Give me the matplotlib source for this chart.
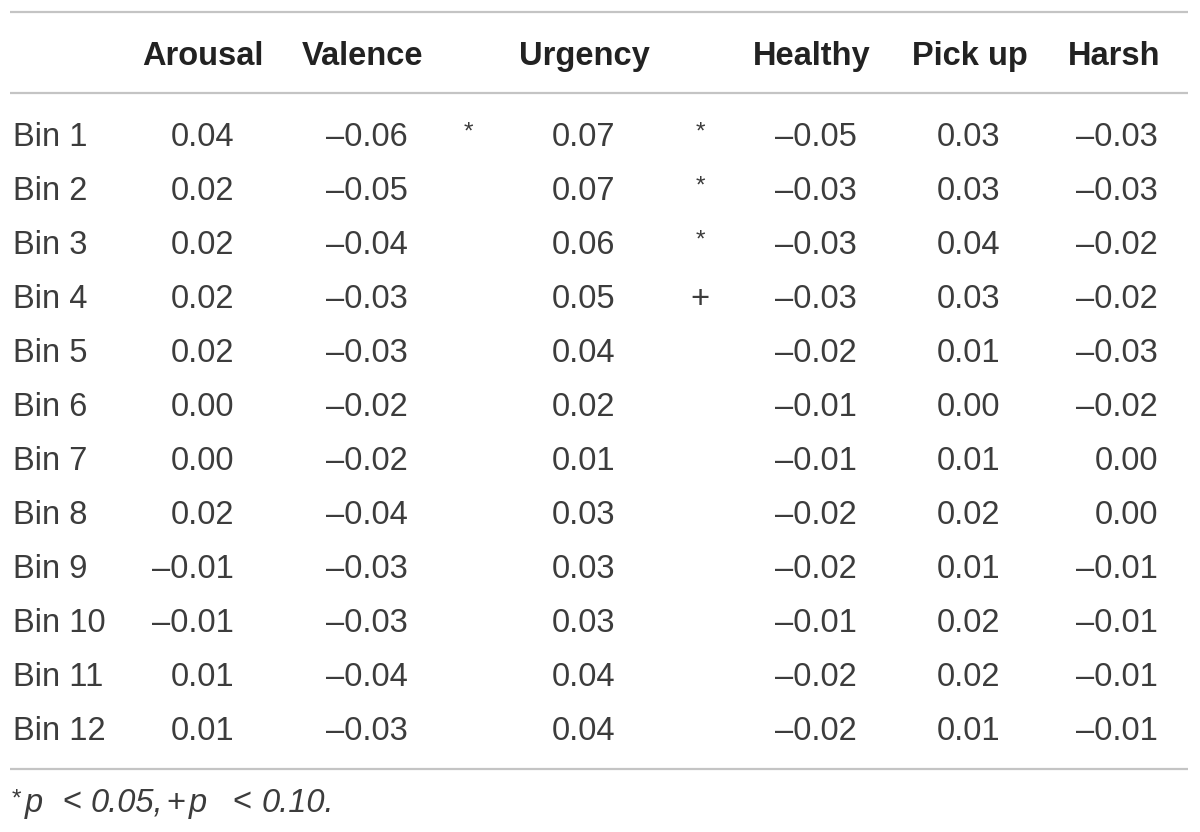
import matplotlib
matplotlib.use("Agg")
import matplotlib.pyplot as plt

# table content
rows = [f"Bin {i}" for i in range(1, 13)]
headers = ["Arousal", "Valence", "Urgency", "Healthy", "Pick up", "Harsh"]
arousal = [0.04, 0.02, 0.02, 0.02, 0.02, 0.00, 0.00, 0.02, -0.01, -0.01, 0.01, 0.01]
valence = [-0.06, -0.05, -0.04, -0.03, -0.03, -0.02, -0.02, -0.04, -0.03, -0.03, -0.04, -0.03]
valence_sig = ["*", "", "", "", "", "", "", "", "", "", "", ""]
urgency = [0.07, 0.07, 0.06, 0.05, 0.04, 0.02, 0.01, 0.03, 0.03, 0.03, 0.04, 0.04]
urgency_sig = ["*", "*", "*", "+", "", "", "", "", "", "", "", ""]
healthy = [-0.05, -0.03, -0.03, -0.03, -0.02, -0.01, -0.01, -0.02, -0.02, -0.01, -0.02, -0.02]
pickup = [0.03, 0.03, 0.04, 0.03, 0.01, 0.00, 0.01, 0.02, 0.01, 0.02, 0.02, 0.01]
harsh = [-0.03, -0.03, -0.02, -0.02, -0.03, -0.02, 0.00, 0.00, -0.01, -0.01, -0.01, -0.01]
# footnote pieces: text, x position, italic?
foot = [("*", 12, False), ("p", 25, True), ("<", 62, False), ("0.05,", 91, True),
        ("+", 166, False), ("p", 189, True), ("<", 232, False), ("0.10.", 262, True)]

columns = [arousal, valence, urgency, healthy, pickup, harsh]
sigs = {1: valence_sig, 2: urgency_sig}

# layout (pixels)
W, H = 1200, 832
col_right = [234, 408, 615, 857, 1000, 1158]
head_center = [203, 363, 584, 812, 970, 1114]
sig_x = {1: 468, 2: 700}
head_base = 65
row_base0, row_dy = 146, 54.0
foot_base = 812
txt_col = "#3c3c3c"
line_col = "#c4c4c4"
fs = 23.5
fam = "Liberation Sans"

def fmt(v):
    s = f"{abs(v):.2f}"
    return ("\u2013" + s) if v < 0 else s

fig = plt.figure(figsize=(12, 8.32), dpi=100)
ax = fig.add_axes([0, 0, 1, 1])
ax.set_xlim(0, W)
ax.set_ylim(H, 0)
ax.axis("off")

for y in [12, 93, 769]:
    ax.plot([10, 1188], [y, y], color=line_col, lw=1.6, solid_capstyle="butt")

for hx, name in zip(head_center, headers):
    ax.text(hx, head_base, name, ha="center", va="baseline", fontsize=fs,
            fontweight="bold", family=fam, color="#222222")

for i, r in enumerate(rows):
    y = row_base0 + i * row_dy
    ax.text(13, y, r, ha="left", va="baseline", fontsize=fs,
            family=fam, color=txt_col)
    for j, col in enumerate(columns):
        ax.text(col_right[j], y, fmt(col[i]), ha="right", va="baseline",
                fontsize=fs, family=fam, color=txt_col)
    for j, s in sigs.items():
        if s[i] == "*":
            ax.text(sig_x[j], y - 24, s[i], ha="center", va="top",
                    fontsize=fs * 0.75, family=fam, color=txt_col)
        elif s[i] == "+":
            ax.text(sig_x[j], y, s[i], ha="center", va="baseline",
                    fontsize=fs, family=fam, color=txt_col)

for t, x, it in foot:
    if t == "*":
        ax.text(x, foot_base - 23, t, ha="left", va="top", fontsize=fs * 0.75,
                family=fam, color=txt_col)
    else:
        ax.text(x, foot_base, t, ha="left", va="baseline", fontsize=fs,
                family=fam, style="italic" if it else "normal", color=txt_col)

fig.savefig("out.png", dpi=100)
